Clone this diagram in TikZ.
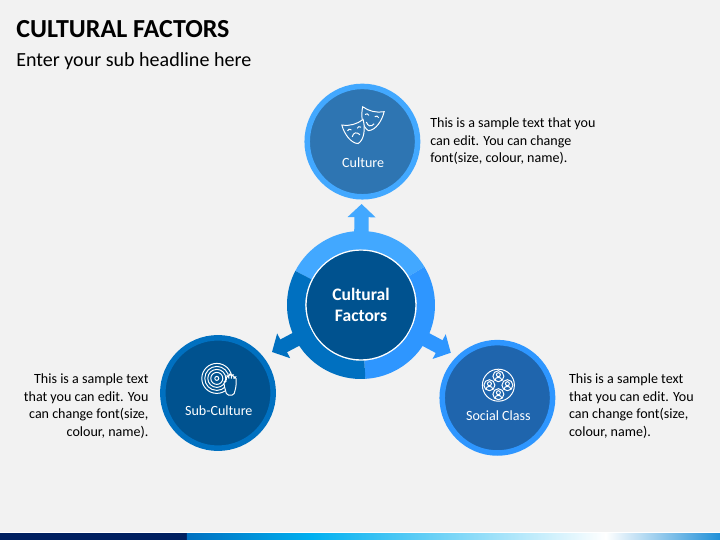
\documentclass[tikz,border=0pt]{standalone}
\usepackage{fontspec}
\setmainfont{Carlito}
\usetikzlibrary{positioning, calc, arrows.meta}

\definecolor{pagebg}{HTML}{F2F2F2}
\definecolor{hubblue}{HTML}{00528F}
\definecolor{lightblue}{HTML}{42A8FF}
\definecolor{midblue}{HTML}{2E96FF}
\definecolor{darkblue}{HTML}{0070C0}
\definecolor{cultureblue}{HTML}{2E75B2}
\definecolor{socialblue}{HTML}{1F65AD}
\definecolor{navyband}{HTML}{002060}
\definecolor{skyband}{HTML}{00B0F0}
\definecolor{endband}{HTML}{2090D8}

\tikzset{
	satnode/.style={circle, draw, line width=0.1375cm, minimum size=2.76cm, inner sep=0pt},
	satlabel/.style={text=white, font=\fontsize{10}{12}\selectfont, inner sep=0pt},
	sidetext/.style={font=\fontsize{10}{12.4}\selectfont, inner sep=0pt},
	blockarrow/.style={line width=0.36cm, -{Triangle[width=0.68cm, length=0.33cm]}},
	iconline/.style={draw=white, line width=0.7pt},
	pics/maskface/.style 2 args={code={
		\begin{scope}[scale=0.025, iconline]
			\filldraw[fill=#2] (-11,9) .. controls (-4,6) and (4,6) .. (11,9) .. controls (11,0) and (7,-11) .. (0,-13) .. controls (-7,-11) and (-11,0) .. (-11,9) -- cycle;
			\draw (-7,2) .. controls (-6,3.5) and (-4,3.5) .. (-3,2);
			\draw (3,2) .. controls (4,3.5) and (6,3.5) .. (7,2);
			\draw (-4,-5) .. controls (-2,{-5+#1}) and (2,{-5+#1}) .. (4,-5);
		\end{scope}
	}},
	pics/discicon/.style={code={
		\begin{scope}[scale=0.025, iconline]
			\draw (0,0) circle (15);
			\draw (0,0) circle (12);
			\draw (0,0) circle (9);
			\draw (0,0) circle (6);
			\draw (0,0) circle (2);
			\filldraw[fill=hubblue, rounded corners=1.2pt] (10,-16.7) -- (7.3,-7) -- (7.3,-3) -- (9.5,-3) -- (9.5,2.5) -- (12,2.5) -- (12,-2) -- (12,4.3) -- (14.5,4.3) -- (14.5,-2) -- (14.5,3.5) -- (17,3.5) -- (17,-2) -- (17,1.5) -- (19.3,1.5) -- (19.3,-8) -- (17,-16.7) -- cycle;
		\end{scope}
	}},
	pics/personicon/.style={code={
		\begin{scope}[scale=0.025, iconline]
			\draw (0,0) circle (5.5);
			\draw (0,1.5) circle (2);
			\draw (-3.3,-3.8) .. controls (-3.3,-0.3) and (3.3,-0.3) .. (3.3,-3.8);
		\end{scope}
	}},
}

\begin{document}
\begin{tikzpicture}
	\useasboundingbox (0,0) rectangle (18,13.5);
	\fill[pagebg] (0,0) rectangle (18,13.5);

	% bottom band
	\fill[white] (0,0.17) rectangle (18,0.2);
	\fill[navyband] (0,0) rectangle (4.68,0.17);
	\fill[left color=darkblue, right color=skyband] (4.67,0) rectangle (7.8,0.17);
	\fill[left color=skyband, right color=white] (7.79,0) rectangle (15.15,0.17);
	\fill[left color=white, right color=endband] (15.14,0) rectangle (18,0.17);

	% headings
	\node (title) [anchor=west, inner sep=0pt, font=\fontsize{18.5}{22}\selectfont\bfseries] at (0.4,12.78) {CULTURAL FACTORS};
	\node (subtitle) [anchor=west, inner sep=0pt, font=\fontsize{14.25}{17}\selectfont] at (0.4,11.98) {Enter your sub headline here};

	% hub and arrows
	\node (hub) [circle, draw=white, fill=hubblue, line width=0.9pt, minimum size=2.75cm, inner sep=0pt, align=center, text=white, font=\fontsize{12.5}{15.3}\selectfont\bfseries] at (9.025,5.875) {Cultural\\Factors};
	\coordinate (tipup) at (9.04,8.4);
	\coordinate (tipleft) at (6.8,4.7);
	\coordinate (tipright) at (11.27,4.68);
	\draw [blockarrow, lightblue] (hub) -- (tipup);
	\draw [blockarrow, darkblue] (hub) -- (tipleft);
	\draw [blockarrow, midblue] (hub) -- (tipright);

	% ring round the hub
	\foreach \from/\to/\col in {31/152.6/lightblue, -86.6/31/midblue, 152.6/273.4/darkblue}{
		\fill[\col] ($(hub)+(\from:1.85)$) arc[start angle=\from, end angle=\to, radius=1.85] -- ($(hub)+(\to:1.395)$) arc[start angle=\to, end angle=\from, radius=1.395] -- cycle;
	}

	% satellites
	\node (culture) [satnode, draw=lightblue, fill=cultureblue] at (9.06,9.96) {};
	\node (subculture) [satnode, draw=darkblue, fill=hubblue] at (5.45,3.675) {};
	\node (social) [satnode, draw=midblue, fill=socialblue] at (12.435,3.555) {};

	\node (culturelabel) [satlabel] at (9.08,9.43) {Culture};
	\node (subculturelabel) [satlabel] at (5.47,3.23) {Sub-Culture};
	\node (sociallabel) [satlabel] at (12.46,3.12) {Social Class};

	% icons
	\pic[rotate=-13] at (9.285,10.55) {maskface={-4}{cultureblue}};
	\pic[rotate=15] at (8.87,10.225) {maskface={4}{cultureblue}};
	\pic at (5.42,4.04) {discicon};
	\draw [iconline] (12.46,3.87) circle (0.4);
	\foreach \dx/\dy in {0/9, 0/-9, -9/0, 9/0}{
		\pic at ($(12.46,3.87)+(\dx*0.025,\dy*0.025)$) {personicon};
	}

	% side texts
	\node (culturetext) [sidetext, anchor=west, align=left] at (10.75,9.97) {This is a sample text that you\\can edit. You can change\\font(size, colour, name).};
	\node (subculturetext) [sidetext, anchor=east, align=right] at (3.72,3.35) {This is a sample text\\that you can edit. You\\can change font(size,\\colour, name).};
	\node (socialtext) [sidetext, anchor=west, align=left] at (14.22,3.35) {This is a sample text\\that you can edit. You\\can change font(size,\\colour, name).};
\end{tikzpicture}
\end{document}
